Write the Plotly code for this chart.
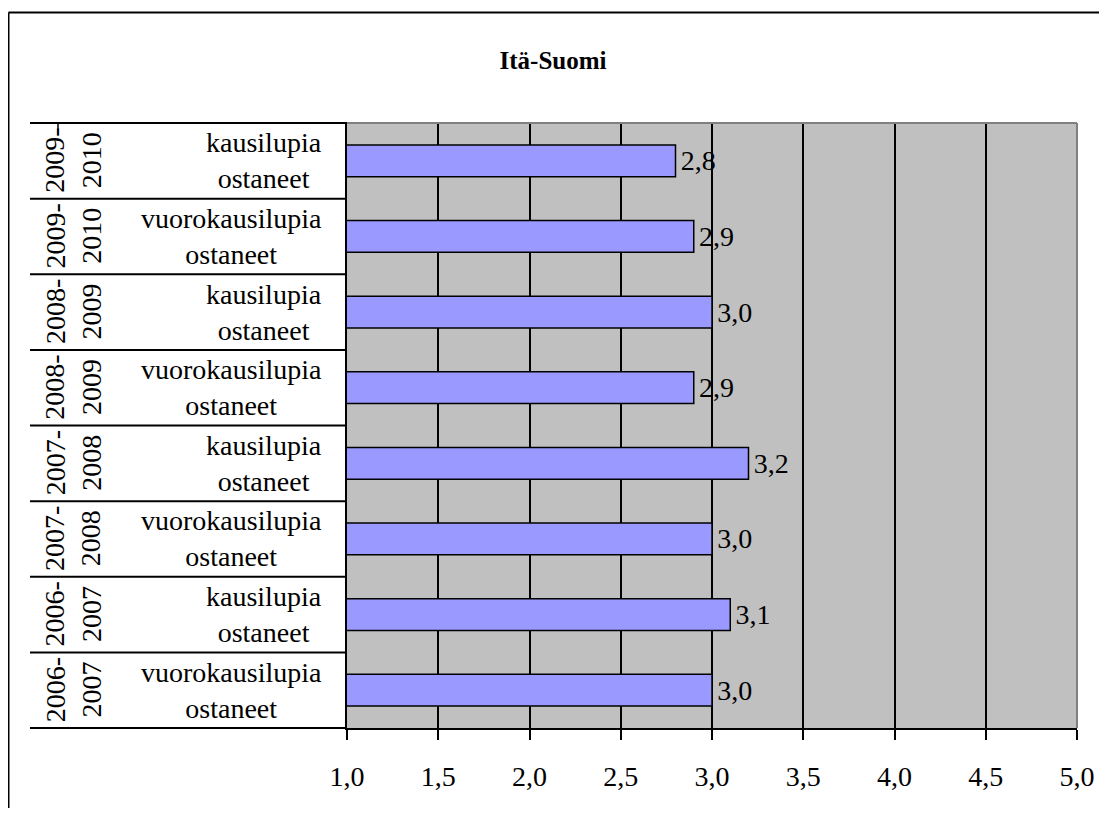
import plotly.graph_objects as go

# bottom-to-top order, as plotly draws categories
seasons = ["2006-2007", "2006-2007", "2007-2008", "2007-2008",
           "2008-2009", "2008-2009", "2009-2010", "2009-2010"]
buyers = ["vuorokausilupia ostaneet", "kausilupia ostaneet",
          "vuorokausilupia ostaneet", "kausilupia ostaneet",
          "vuorokausilupia ostaneet", "kausilupia ostaneet",
          "vuorokausilupia ostaneet", "kausilupia ostaneet"]
values = [3.0, 3.1, 3.0, 3.2, 2.9, 3.0, 2.9, 2.8]
x_ticks = [1.0, 1.5, 2.0, 2.5, 3.0, 3.5, 4.0, 4.5, 5.0]

FONT = "Liberation Serif"
W, H = 1091, 800
L, R, T, B = 339, 22, 115, 80
PW = W - L - R
PH = H - T - B


def px_x(v):
    return (v - L) / PW


def px_y(v):
    return (H - B - v) / PH


cats = [f"{s} {b}" for s, b in zip(seasons, buyers)]

fig = go.Figure(go.Bar(
    x=values, y=cats, orientation="h",
    marker=dict(color="#9999FF", line=dict(color="#000000", width=1.5)),
    text=values, texttemplate="\u200a%{x:.1f}", textposition="outside",
    textfont=dict(family=FONT, size=28, color="#000000"),
    cliponaxis=False,
))

annotations = []
for c, s, b in zip(cats, seasons, buyers):
    a, b2 = s.split("-")
    annotations.append(dict(
        x=px_x(65), y=c, xref="paper", yref="y", text=f"{a}-<br>{b2}",
        textangle=-90, showarrow=False, xanchor="center", yanchor="middle",
        font=dict(family=FONT, size=28, color="#000000"),
    ))
    w1, w2 = b.split(" ")
    annotations.append(dict(
        x=px_x(316), y=c, xref="paper", yref="y", text=f"{w1}<br>{w2}",
        showarrow=False, xanchor="right", yanchor="middle", align="center",
        font=dict(family=FONT, size=28, color="#000000"),
    ))

shapes = []
# category separators on the left
for k in range(len(cats) + 1):
    shapes.append(dict(type="line", xref="paper", yref="paper",
                       x0=px_x(22), x1=0, y0=k / len(cats), y1=k / len(cats),
                       line=dict(color="#000000", width=2)))
shapes.append(dict(type="line", xref="paper", yref="paper",
                   x0=px_x(50), x1=px_x(50), y0=1, y1=1 - 7 / PH,
                   line=dict(color="#000000", width=1.5)))
# top and right plot borders
shapes.append(dict(type="line", xref="paper", yref="paper", x0=0, x1=1, y0=1, y1=1,
                   line=dict(color="#808080", width=2)))
shapes.append(dict(type="line", xref="paper", yref="paper", x0=1, x1=1, y0=0, y1=1,
                   line=dict(color="#808080", width=2)))
# outer chart frame: only the left and top sides are on the page
shapes.append(dict(type="line", xref="paper", yref="paper",
                   x0=px_x(0.5), x1=px_x(0.5), y0=px_y(4.5), y1=px_y(H + 10),
                   line=dict(color="#000000", width=2)))
shapes.append(dict(type="line", xref="paper", yref="paper",
                   x0=px_x(0.5), x1=px_x(W + 10), y0=px_y(4.5), y1=px_y(4.5),
                   line=dict(color="#000000", width=2)))

fig.update_layout(
    width=W, height=H,
    margin=dict(l=L, r=R, t=T, b=B, pad=0, autoexpand=False),
    paper_bgcolor="#FFFFFF",
    plot_bgcolor="#C0C0C0",
    separators=", ",
    font=dict(family=FONT, size=28, color="#000000"),
    showlegend=False,
    bargap=0.58,
    title=dict(text="<b>Itä-Suomi</b>", x=545 / W, xref="container", xanchor="center",
               y=1 - 52 / H, yref="container", yanchor="middle",
               font=dict(family=FONT, size=25, color="#000000")),
    xaxis=dict(range=[1, 5], tickvals=x_ticks, tickformat=".1f", automargin=False,
               showgrid=True, gridcolor="#000000", gridwidth=1.5, zeroline=False,
               showline=True, linecolor="#000000", linewidth=2,
               ticks="outside", ticklen=10, tickwidth=1.5, tickcolor="#000000",
               ticklabelstandoff=12,
               tickfont=dict(family=FONT, size=28, color="#000000")),
    yaxis=dict(type="category", categoryorder="array", categoryarray=cats, automargin=False,
               range=[-0.5, len(cats) - 0.5], showticklabels=False, showgrid=False,
               zeroline=False, showline=True, linecolor="#000000", linewidth=2, ticks=""),
    annotations=annotations,
    shapes=shapes,
)

fig.write_html("out.html")
